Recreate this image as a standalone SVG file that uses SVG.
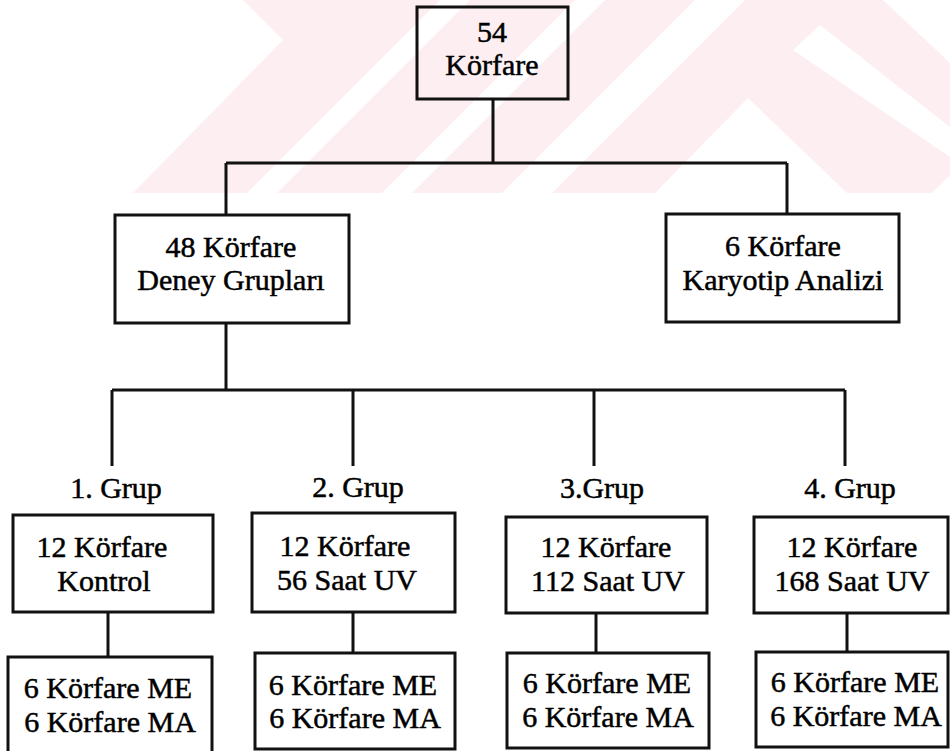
<svg xmlns="http://www.w3.org/2000/svg" width="950" height="751" viewBox="0 0 950 751">
<style>
.box{fill:none;stroke:#111;stroke-width:3}
.ln{fill:none;stroke:#111;stroke-width:3}
.t{font-family:'Liberation Serif','Times New Roman',Times,'DejaVu Serif',serif;font-size:30px;fill:#000;stroke:#000;stroke-width:0.5;text-anchor:middle}
.wm{fill:#fdeef1}
.wh{fill:#ffffff}
</style>
<rect x="0" y="0" width="950" height="751" fill="#ffffff"/>
<g id="watermark">
<polygon class="wm" points="243,0 283,40 133,193 950,193 950,63 883,0"/>
<polygon class="wh" points="440,0 470,0 277,193 247,193"/>
<polygon class="wh" points="575,0 605,0 412,193 382,193"/>
<polygon class="wh" points="695,0 745,0 552,193 502,193"/>
<polygon class="wh" points="748,98 847,193 655,193"/>
<polygon class="wh" points="820,25 950,127 950,157 793,50"/>
<polygon class="wh" points="950,175 950,193 932,193"/>
</g>
<g id="connectors">
<path class="ln" d="M493,99 V163 M226,163 H787 M226,163 V215 M787,163 V214"/>
<path class="ln" d="M226,323 V390 M112,390 H845 M112,390 V466 M353,390 V466 M594,390 V466 M845,390 V466"/>
<path class="ln" d="M108,612 V657 M353,612 V653 M596,613 V653 M847,613 V652"/>
</g>
<g id="n_root">
<rect class="box" x="417" y="7" width="151" height="92"/>
<text class="t" x="492" y="42">54</text>
<text class="t" x="492" y="75">Körfare</text>
</g>
<g id="n_deney">
<rect class="box" x="115" y="215" width="234" height="108"/>
<text class="t" x="231" y="257">48 Körfare</text>
<text class="t" x="231" y="290">Deney Grupları</text>
</g>
<g id="n_karyotip">
<rect class="box" x="666" y="214" width="233" height="108"/>
<text class="t" x="783" y="256">6 Körfare</text>
<text class="t" x="783" y="290">Karyotip Analizi</text>
</g>
<g id="n_g1">
<text class="t" x="116" y="498">1. Grup</text>
<rect class="box" x="13" y="515" width="200" height="97"/>
<text class="t" x="102" y="557">12 Körfare</text>
<text class="t" x="104" y="591">Kontrol</text>
</g>
<g id="n_g2">
<text class="t" x="358" y="497">2. Grup</text>
<rect class="box" x="252" y="513" width="203" height="99"/>
<text class="t" x="345" y="556">12 Körfare</text>
<text class="t" x="347" y="590">56 Saat UV</text>
</g>
<g id="n_g3">
<text class="t" x="602" y="498">3.Grup</text>
<rect class="box" x="506" y="517" width="201" height="96"/>
<text class="t" x="606" y="557">12 Körfare</text>
<text class="t" x="608" y="591">112 Saat UV</text>
</g>
<g id="n_g4">
<text class="t" x="850" y="498">4. Grup</text>
<rect class="box" x="754" y="517" width="194" height="96"/>
<text class="t" x="852" y="557">12 Körfare</text>
<text class="t" x="852" y="591">168 Saat UV</text>
</g>
<g id="n_g1sub">
<rect class="box" x="8" y="657" width="204" height="97"/>
<text class="t" x="108" y="698">6 Körfare ME</text>
<text class="t" x="110" y="732">6 Körfare MA</text>
</g>
<g id="n_g2sub">
<rect class="box" x="255" y="653" width="200" height="96"/>
<text class="t" x="353" y="695">6 Körfare ME</text>
<text class="t" x="355" y="728">6 Körfare MA</text>
</g>
<g id="n_g3sub">
<rect class="box" x="507" y="653" width="202" height="95"/>
<text class="t" x="607" y="693">6 Körfare ME</text>
<text class="t" x="608" y="727">6 Körfare MA</text>
</g>
<g id="n_g4sub">
<rect class="box" x="756" y="652" width="192" height="95"/>
<text class="t" x="855" y="692">6 Körfare ME</text>
<text class="t" x="856" y="726">6 Körfare MA</text>
</g>
</svg>
